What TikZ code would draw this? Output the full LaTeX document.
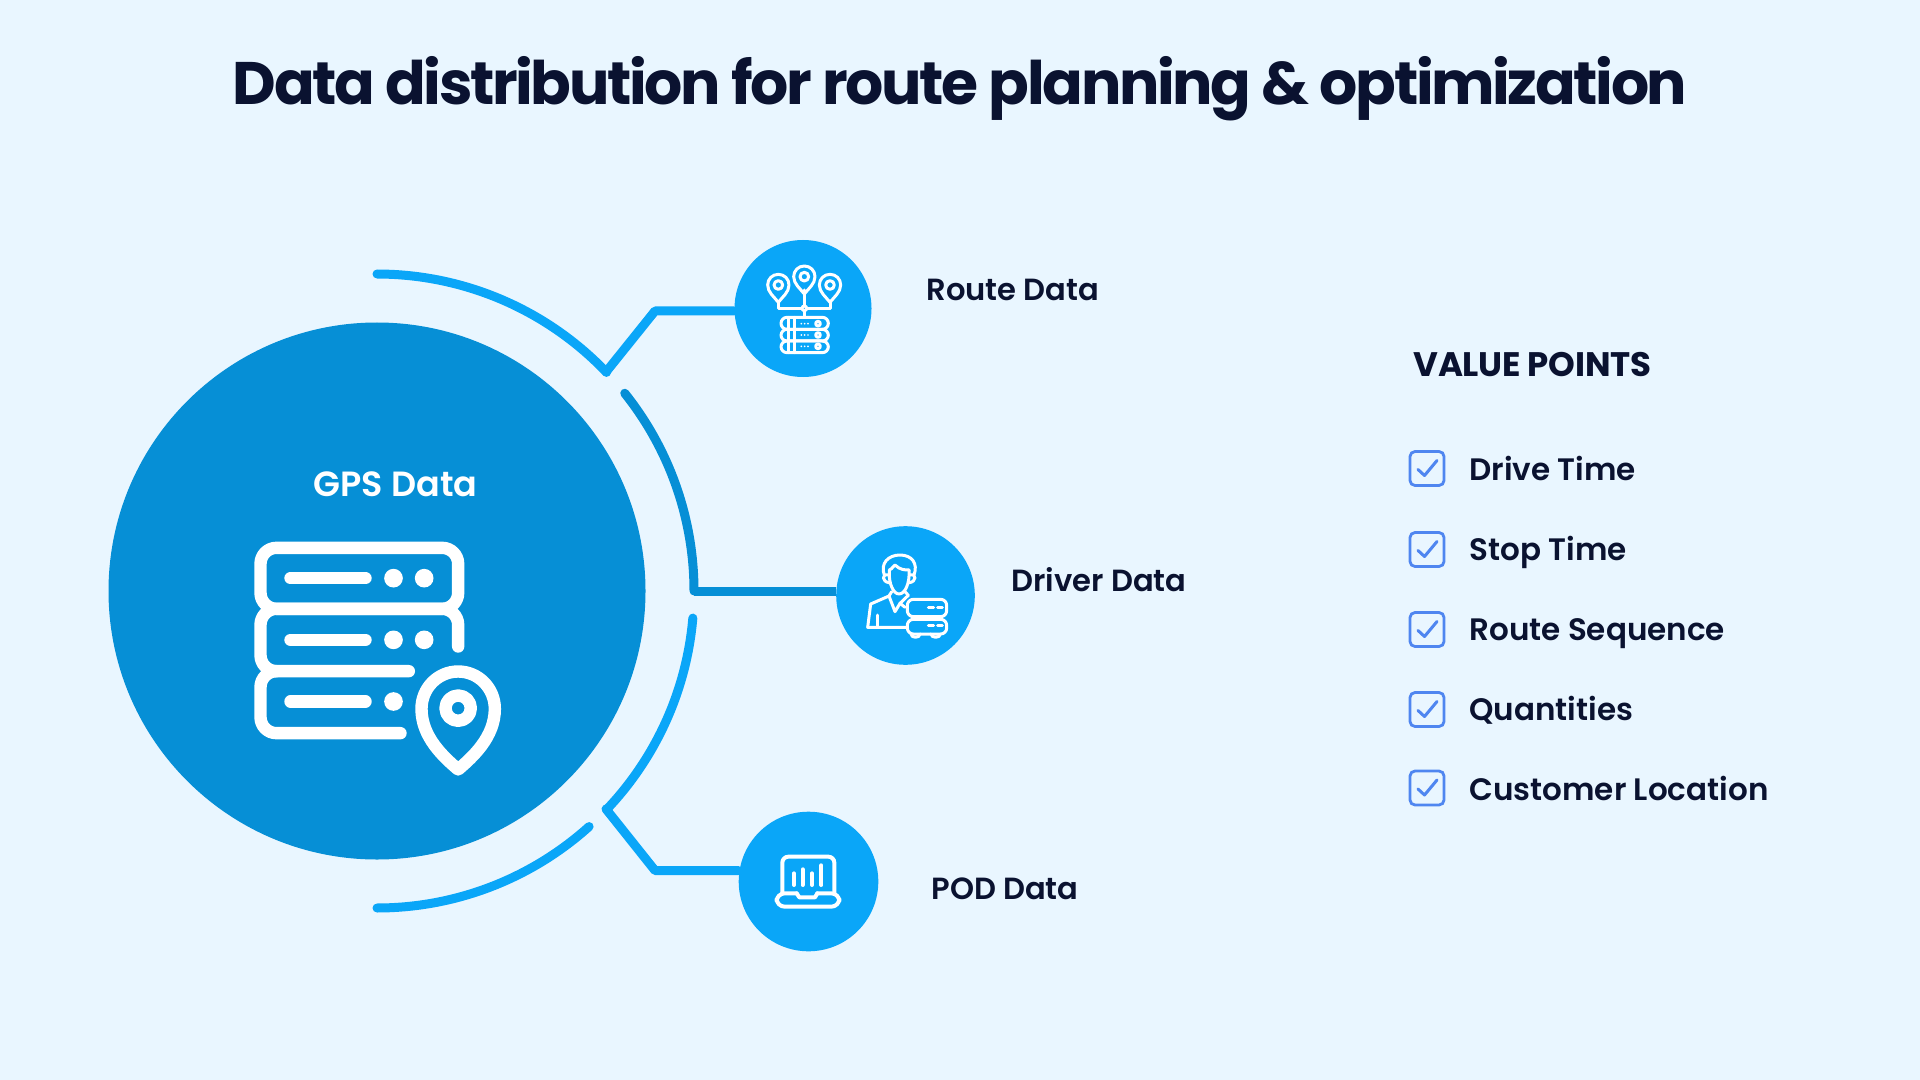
\documentclass[tikz,border=0pt]{standalone}
\usepackage{fontspec}
\setmainfont{Poppins}
\newfontfamily\semi{Poppins SemiBold}
\newfontfamily\titlefont{Poppins Bold}[LetterSpace=-3.95]
\newfontfamily\heavy{Poppins Bold}[LetterSpace=-0.7]
\definecolor{bgc}{HTML}{E9F6FF}
\definecolor{deep}{HTML}{068FD6}
\definecolor{lite}{HTML}{0AA6F8}
\definecolor{ink}{HTML}{0A1230}
\definecolor{tick}{HTML}{4F86F0}
\tikzset{
  hub/.style={circle,inner sep=0pt,fill=deep,minimum size=268.5pt},
  bubble/.style={circle,inner sep=0pt,fill=lite,minimum size=#1},
  tag/.style={anchor=base west,inner sep=0pt,text=ink,font=\semi\fontsize{15.5}{18}\selectfont},
  bubbletag/.style={tag,font=\semi\fontsize{15.3}{18}\selectfont},
  ring/.style={line width=4.5pt,line cap=round,line join=round},
  bigicon/.style={draw=white,line width=6.2pt,line cap=round,line join=round},
  thin/.style={draw=white,line width=1.5pt,line cap=round,line join=round},
  checkbox/.style={draw=tick,line width=1.4pt,rounded corners=2.5pt,minimum size=17pt,inner sep=0pt,fill=bgc},
}
\newcommand\smallpin[2]{%
  \begin{scope}[shift={(#1,#2)}]
    \draw[thin] (0,52) .. controls (-12,36) and (-32,22) .. (-32,0) .. controls (-32,-18) and (-18,-32) .. (0,-32) .. controls (18,-32) and (32,-18) .. (32,0) .. controls (32,22) and (12,36) .. (0,52) -- cycle;
    \draw[thin] (0,0) circle[radius=13];
  \end{scope}}
\newcommand\tickmark[1]{%
  \draw[tick,line width=1.5pt,line cap=round,line join=round] ($(#1)+(-9,1)$) -- ($(#1)+(-2.5,7)$) -- ($(#1)+(10,-8)$);}
\usetikzlibrary{calc}
\begin{document}
\begin{tikzpicture}[x=0.5pt,y=-0.5pt]
\fill[bgc] (0,0) rectangle (1920,1080);
\useasboundingbox (0,0) rectangle (1920,1080);
% title
\node[anchor=base,inner sep=0pt,text=ink,font=\titlefont\fontsize{30}{36}\selectfont] (title) at (960,105) {Data distribution for route planning \& optimization};
% hub and bubbles
\node[hub] (gps) at (377,591) {};
\node[bubble=68.5pt] (route) at (803,308.5) {};
\node[bubble=69.3pt] (driver) at (905.5,595.5) {};
\node[bubble=69.8pt] (pod) at (808.5,881.5) {};
% arcs
\draw[ring,lite] plot[domain=90:43.6,samples=60] ({377+317*cos(\x)},{591-317*sin(\x)});
\draw[ring,deep] plot[domain=38.6:0,samples=60] ({377+317*cos(\x)},{591-317*sin(\x)});
\draw[ring,lite] plot[domain=-4.9:-43.6,samples=60] ({377+317*cos(\x)},{591-317*sin(\x)});
\draw[ring,lite] plot[domain=-48:-90,samples=60] ({377+317*cos(\x)},{591-317*sin(\x)});
% connectors
\coordinate (j1) at (606,372);
\coordinate (b1) at (655,311);
\coordinate (j2) at (694,591);
\coordinate (j3) at (606,809);
\coordinate (b3) at (655,870.5);
\draw[ring,lite] (j1) -- (b1) -- (b1 -| route.west);
\draw[ring,deep,line cap=butt] (j2) -- (j2 -| driver.west);
\draw[ring,lite] (j3) -- (b3) -- (b3 -| pod.west);
% big server icon
\begin{scope}[shift={(230.5,520.5)},scale=1/3]
  \draw[bigicon,rounded corners=8pt] (90,82) rectangle (683,265);
  \draw[bigicon,rounded corners=8pt] (683,378) -- (683,265) -- (90,265) -- (90,452) -- (535,452);
  \draw[bigicon,rounded corners=8pt] (130,452) -- (90,452) -- (90,638) -- (510,638);
  \foreach \yy in {173,358,543} \draw[bigicon] (180,\yy) -- (405,\yy);
  \fill[white] (489,173) circle[radius=28] (581,173) circle[radius=28] (489,358) circle[radius=28] (581,358) circle[radius=28] (489,543) circle[radius=28];
  \draw[bigicon] (683,747) .. controls (640,710) and (573,650) .. (573,565) .. controls (573,503) and (622,453) .. (683,453) .. controls (744,453) and (793,503) .. (793,565) .. controls (793,650) and (726,710) .. (683,747) -- cycle;
  \draw[bigicon] (683,563) circle[radius=38];
\end{scope}
% route icon
\begin{scope}[shift={(720,230)},scale=1/3]
  \smallpin{175}{165}
  \smallpin{253}{140}
  \smallpin{330}{165}
  \draw[thin] (175,217) -- (175,235) -- (330,235) -- (330,217);
  \draw[thin] (253,180) -- (253,258);
  \fill[lite] (253,235) circle[radius=7];
  \draw[thin] (253,235) circle[radius=7];
  \draw[thin,rounded corners=3pt] (183,262) rectangle (325,298);
  \draw[thin,rounded corners=3pt] (183,298) rectangle (325,333);
  \draw[thin,rounded corners=3pt] (183,333) rectangle (325,368);
  \draw[thin] (205,262) -- (205,368) (222,262) -- (222,368);
  \foreach \yy in {281,315,349} {
    \fill[white] (244,\yy) circle[radius=2.8] (254,\yy) circle[radius=2.8] (264,\yy) circle[radius=2.8];
    \draw[thin] (294,\yy) circle[radius=7];
  }
\end{scope}
% driver icon
\begin{scope}[shift={(825,520)},scale=1/3]
  \draw[thin] (178,165) .. controls (165,130) and (190,105) .. (225,105) .. controls (260,105) and (280,130) .. (267,165);
  \draw[thin] (193,150) .. controls (205,145) and (205,135) .. (210,135) .. controls (225,150) and (240,150) .. (252,150);
  \draw[thin] (193,150) .. controls (190,190) and (205,222) .. (222,222) .. controls (240,222) and (255,190) .. (252,150);
  \draw[thin] (190,165) .. controls (170,160) and (170,185) .. (192,188);
  \draw[thin] (255,165) .. controls (275,160) and (275,185) .. (253,188);
  \draw[thin] (245,322) -- (128,322) -- (137,252) -- (192,228) -- (210,275) -- (225,250) -- (250,226);
  \draw[thin] (192,228) -- (200,215) (225,250) -- (240,262) (250,226) -- (240,215);
  \draw[thin] (158,322) -- (158,285);
  \draw[thin,fill=lite,rounded corners=3pt] (247,238) rectangle (365,290);
  \draw[thin,fill=lite,rounded corners=3pt] (247,298) rectangle (365,342);
  \draw[thin] (258,342) .. controls (258,355) and (285,355) .. (285,342);
  \draw[thin] (318,342) .. controls (318,355) and (346,355) .. (346,342);
  \draw[thin] (310,262) -- (326,262) (338,262) -- (352,262) (310,317) -- (326,317) (338,317) -- (352,317);
\end{scope}
% laptop icon
\begin{scope}[shift={(730,810)},scale=1/3,thin/.append style={line width=2pt}]
  \draw[thin,rounded corners=3pt] (157,250) -- (157,140) -- (313,140) -- (313,250);
  \draw[thin,rounded corners=4pt] (200,250) -- (140,250) -- (140,290) -- (328,290) -- (328,250) -- (262,250);
  \draw[thin] (200,250) -- (208,262) -- (255,262) -- (262,250);
  \draw[thin] (192,190) -- (192,225) (218,178) -- (218,225) (246,190) -- (246,225) (274,166) -- (274,225);
\end{scope}
% bubble labels
\node[bubbletag] (routetxt) at (926,301) {Route Data};
\node[bubbletag] (drivertxt) at (1011,591) {Driver Data};
\node[bubbletag] (podtxt) at (931,899) {POD Data};
\node[tag,text=white,font=\semi\fontsize{17.5}{20}\selectfont] (gpstxt) at (313,496) {GPS Data};
% value points
\node[tag,font=\heavy\fontsize{17}{20}\selectfont] (vp) at (1413,376.5) {VALUE POINTS};
\foreach \nm/\yy/\lb/\tb in {a/468.5/Drive Time/480,b/549.5/Stop Time/560.5,c/629.5/Route Sequence/640.5,d/709.5/Quantities/720,e/788/Customer Location/800} {
  \node[checkbox] (box\nm) at (1427,\yy) {};
  \tickmark{box\nm}
  \node[tag] (txt\nm) at (1469,\tb) {\lb};
}
\end{tikzpicture}
\end{document}
